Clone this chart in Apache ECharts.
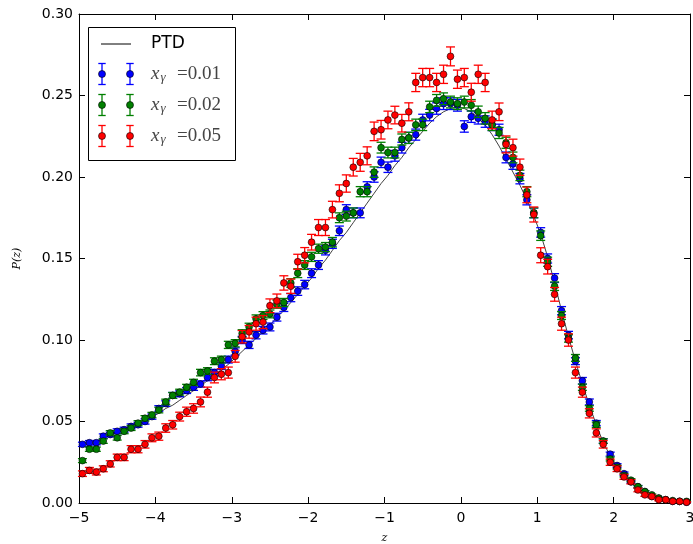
<!DOCTYPE html>
<html>
<head>
<meta charset="utf-8">
<script src="https://cdn.jsdelivr.net/npm/echarts@6/dist/echarts.min.js"></script>
<style>
html,body{margin:0;padding:0;background:#fff;}
#chart{width:693px;height:544px;}
</style>
</head>
<body>
<div id="chart"></div>
<script>
// bin centres z
const zVals = [-4.955,-4.864,-4.773,-4.682,-4.591,-4.500,-4.409,-4.318,-4.227,-4.136,-4.045,
-3.955,-3.864,-3.773,-3.682,-3.591,-3.500,-3.409,-3.318,-3.227,-3.136,-3.045,
-2.955,-2.864,-2.773,-2.682,-2.591,-2.500,-2.409,-2.318,-2.227,-2.136,-2.045,
-1.955,-1.864,-1.773,-1.682,-1.591,-1.500,-1.409,-1.318,-1.227,-1.136,-1.045,
-0.955,-0.864,-0.773,-0.682,-0.591,-0.500,-0.409,-0.318,-0.227,-0.136,-0.045,
0.045,0.136,0.227,0.318,0.409,0.500,0.591,0.682,0.773,0.864,0.955,
1.045,1.136,1.227,1.318,1.409,1.500,1.591,1.682,1.773,1.864,1.955,
2.045,2.136,2.227,2.318,2.409,2.500,2.591,2.682,2.773,2.864,2.955];

// PTD curve
const ptd = [0.035,0.037,0.038,0.040,0.042,0.043,0.045,0.047,0.049,0.051,0.053,
0.055,0.058,0.060,0.063,0.066,0.069,0.072,0.075,0.078,0.082,0.085,
0.089,0.093,0.097,0.101,0.105,0.109,0.114,0.118,0.123,0.128,0.133,
0.138,0.144,0.149,0.155,0.161,0.166,0.172,0.178,0.184,0.190,0.196,
0.201,0.207,0.212,0.218,0.223,0.228,0.233,0.237,0.240,0.242,0.243,
0.242,0.240,0.236,0.232,0.226,0.219,0.211,0.203,0.195,0.186,0.176,
0.165,0.151,0.135,0.118,0.102,0.087,0.073,0.060,0.048,0.037,0.029,
0.022,0.017,0.013,0.009,0.006,0.004,0.003,0.002,0.0013,0.0008,0.0005];

// x_gamma = 0.01
const pBlue = [0.036,0.037,0.037,0.041,0.042,0.044,0.045,0.047,0.048,0.050,0.053,
0.058,0.061,0.066,0.067,0.069,0.071,0.073,0.077,0.080,0.084,0.088,
0.093,0.100,0.097,0.103,0.106,0.108,0.114,0.120,0.126,0.130,0.134,
0.141,0.146,0.155,0.159,0.167,0.180,0.178,0.178,0.194,0.200,0.209,
0.206,0.213,0.218,0.224,0.226,0.235,0.238,0.242,0.245,0.245,0.244,
0.231,0.237,0.236,0.234,0.232,0.229,0.212,0.208,0.199,0.186,0.178,
0.166,0.150,0.138,0.118,0.103,0.087,0.075,0.062,0.049,0.038,0.030,
0.023,0.018,0.013,0.010,0.007,0.004,0.003,0.002,0.001,0.001,0.0005];
const errBlue = [0.0013,0.0013,0.0013,0.0014,0.0014,0.0015,0.0015,0.0015,0.0015,0.0016,0.0016,
0.0017,0.0017,0.0018,0.0018,0.0018,0.0019,0.0019,0.0020,0.0020,0.0021,0.0021,
0.0022,0.0022,0.0022,0.0023,0.0023,0.0024,0.0024,0.0025,0.0025,0.0026,0.0026,
0.0027,0.0027,0.0028,0.0028,0.0029,0.0030,0.0030,0.0030,0.0031,0.0032,0.0032,
0.0032,0.0033,0.0033,0.0034,0.0034,0.0035,0.0035,0.0035,0.0036,0.0036,0.0036,
0.0035,0.0035,0.0035,0.0035,0.0035,0.0034,0.0033,0.0033,0.0032,0.0031,0.0030,
0.0029,0.0028,0.0027,0.0025,0.0023,0.0021,0.0020,0.0018,0.0016,0.0014,0.0012,
0.0011,0.0010,0.0008,0.0007,0.0006,0.0005,0.0004,0.0003,0.0002,0.0002,0.0002];

// x_gamma = 0.02
const pGreen = [0.026,0.033,0.033,0.038,0.043,0.040,0.044,0.046,0.049,0.052,0.054,
0.057,0.062,0.066,0.068,0.071,0.074,0.080,0.081,0.087,0.088,0.097,
0.098,0.104,0.108,0.113,0.115,0.116,0.122,0.123,0.135,0.141,0.146,
0.151,0.156,0.157,0.160,0.175,0.176,0.178,0.191,0.191,0.203,0.218,
0.215,0.215,0.223,0.224,0.232,0.232,0.243,0.247,0.248,0.246,0.245,
0.246,0.244,0.240,0.236,0.232,0.227,0.221,0.212,0.201,0.191,0.178,
0.164,0.148,0.133,0.115,0.101,0.089,0.071,0.058,0.048,0.038,0.027,
0.022,0.017,0.014,0.010,0.007,0.005,0.003,0.002,0.0015,0.001,0.001];
const errGreen = [0.0012,0.0013,0.0013,0.0014,0.0014,0.0014,0.0015,0.0015,0.0015,0.0016,0.0016,
0.0017,0.0017,0.0018,0.0018,0.0018,0.0019,0.0020,0.0020,0.0021,0.0021,0.0022,
0.0022,0.0023,0.0023,0.0024,0.0024,0.0024,0.0025,0.0025,0.0026,0.0027,0.0027,
0.0028,0.0028,0.0028,0.0029,0.0030,0.0030,0.0030,0.0031,0.0031,0.0032,0.0033,
0.0033,0.0033,0.0034,0.0034,0.0035,0.0035,0.0035,0.0036,0.0036,0.0036,0.0036,
0.0036,0.0035,0.0035,0.0035,0.0035,0.0034,0.0034,0.0033,0.0032,0.0031,0.0030,
0.0029,0.0028,0.0026,0.0024,0.0023,0.0021,0.0019,0.0017,0.0016,0.0014,0.0012,
0.0011,0.0010,0.0009,0.0007,0.0006,0.0005,0.0004,0.0003,0.0003,0.0002,0.0002];

// x_gamma = 0.05
const pRed = [0.018,0.020,0.019,0.021,0.024,0.028,0.028,0.033,0.033,0.036,0.040,
0.041,0.046,0.048,0.053,0.056,0.058,0.062,0.068,0.077,0.079,0.080,
0.090,0.102,0.105,0.110,0.111,0.121,0.124,0.135,0.133,0.148,0.152,
0.160,0.169,0.169,0.180,0.190,0.196,0.206,0.209,0.213,0.228,0.229,
0.235,0.238,0.233,0.240,0.258,0.261,0.261,0.258,0.263,0.274,0.260,
0.261,0.252,0.263,0.258,0.235,0.240,0.220,0.218,0.206,0.189,0.177,
0.152,0.145,0.128,0.110,0.100,0.080,0.068,0.055,0.043,0.036,0.025,
0.021,0.016,0.013,0.008,0.005,0.004,0.002,0.002,0.001,0.001,0.0005];
const errRed = [0.0017,0.0018,0.0018,0.0018,0.0019,0.0020,0.0020,0.0022,0.0022,0.0023,0.0024,
0.0025,0.0026,0.0026,0.0027,0.0028,0.0029,0.0030,0.0031,0.0033,0.0034,0.0034,
0.0036,0.0038,0.0039,0.0040,0.0040,0.0042,0.0042,0.0044,0.0044,0.0046,0.0047,
0.0048,0.0049,0.0049,0.0051,0.0052,0.0053,0.0054,0.0055,0.0055,0.0057,0.0057,
0.0054,0.0054,0.0054,0.0055,0.0056,0.0056,0.0056,0.0056,0.0056,0.0058,0.0056,
0.0056,0.0055,0.0056,0.0056,0.0054,0.0054,0.0052,0.0052,0.0050,0.0048,0.0046,
0.0046,0.0045,0.0042,0.0040,0.0038,0.0034,0.0031,0.0028,0.0025,0.0023,0.0019,
0.0017,0.0015,0.0013,0.0011,0.0009,0.0008,0.0006,0.0005,0.0004,0.0004,0.0003];

const seriesNames = ['0.01', '0.02', '0.05'];
const seriesColors = ['#0000ff', '#008000', '#ff0000'];
const seriesValues = [pBlue, pGreen, pRed];
const seriesErrors = [errBlue, errGreen, errRed];

const fmtX = v => (v < 0 ? '\u2212' + Math.abs(v) : String(v));
const fmtY = v => v.toFixed(2);

function errRender(color) {
  return function (params, api) {
    const x = api.value(0), y = api.value(1), e = api.value(2);
    const c = api.coord([x, y]);
    const t = api.coord([x, y + e]);
    const b = api.coord([x, y - e]);
    const cw = 4.5;
    const ls = { stroke: color, lineWidth: 1.3 };
    return {
      type: 'group',
      children: [
        { type: 'line', shape: { x1: c[0], y1: t[1], x2: c[0], y2: b[1] }, style: ls },
        { type: 'line', shape: { x1: c[0] - cw, y1: t[1], x2: c[0] + cw, y2: t[1] }, style: ls },
        { type: 'line', shape: { x1: c[0] - cw, y1: b[1], x2: c[0] + cw, y2: b[1] }, style: ls },
        { type: 'circle', shape: { cx: c[0], cy: c[1], r: 3.4 }, style: { fill: color, stroke: '#000', lineWidth: 0.6 } }
      ]
    };
  };
}

const series = [{
  name: 'PTD', type: 'line', showSymbol: false, silent: true,
  data: zVals.map((z, i) => [z, ptd[i]]),
  lineStyle: { color: '#000', width: 1, opacity: 0.75 }, z: 1
}];
seriesValues.forEach((vals, k) => {
  series.push({
    name: seriesNames[k], type: 'custom', silent: true, z: 2 + k,
    renderItem: errRender(seriesColors[k]),
    encode: { x: 0, y: 1 },
    data: zVals.map((z, i) => [z, vals[i], seriesErrors[k][i]])
  });
});

// legend drawn as graphics
const legendY = [74, 105, 136];
const graphic = [
  { type: 'rect', shape: { x: 88.5, y: 27.5, width: 147, height: 133 }, style: { fill: '#fff', stroke: '#000', lineWidth: 1 }, z: 100 },
  { type: 'line', shape: { x1: 101, y1: 44, x2: 131, y2: 44 }, style: { stroke: '#000', lineWidth: 1 }, z: 101 },
  { type: 'text', x: 151, y: 44, style: { text: 'PTD', font: '17px "DejaVu Sans"', fill: '#000', verticalAlign: 'middle' }, z: 101 }
];
seriesNames.forEach((nm, k) => {
  const y = legendY[k], col = seriesColors[k];
  [102, 130].forEach(x => {
    const ls = { stroke: col, lineWidth: 1.3 };
    graphic.push({ type: 'line', shape: { x1: x, y1: y - 10.5, x2: x, y2: y + 10.5 }, style: ls, z: 101 });
    graphic.push({ type: 'line', shape: { x1: x - 3.7, y1: y - 10.5, x2: x + 3.7, y2: y - 10.5 }, style: ls, z: 101 });
    graphic.push({ type: 'line', shape: { x1: x - 3.7, y1: y + 10.5, x2: x + 3.7, y2: y + 10.5 }, style: ls, z: 101 });
    graphic.push({ type: 'circle', shape: { cx: x, cy: y, r: 3.5 }, style: { fill: col, stroke: '#000', lineWidth: 0.6 }, z: 102 });
  });
  graphic.push({ type: 'text', x: 151, y: y, style: { text: 'x', font: 'italic 19px "Liberation Serif"', fill: '#444', verticalAlign: 'middle' }, z: 101 });
  graphic.push({ type: 'text', x: 160.5, y: y + 4, style: { text: 'γ', font: 'italic 13px "Liberation Serif"', fill: '#444', verticalAlign: 'middle' }, z: 101 });
  graphic.push({ type: 'text', x: 177, y: y, style: { text: '=' + nm, font: '19px "Liberation Serif"', fill: '#444', verticalAlign: 'middle' }, z: 101 });
});

const axisLineStyle = { color: '#000', width: 1 };
const option = {
  animation: false,
  backgroundColor: '#fff',
  grid: { left: 79, right: 3, top: 14, bottom: 41, containLabel: false, outerBoundsMode: 'none' },
  xAxis: [{
    type: 'value', min: -5, max: 3, interval: 1, position: 'bottom',
    axisLine: { onZero: false, lineStyle: axisLineStyle },
    axisTick: { inside: true, length: 6, lineStyle: axisLineStyle },
    axisLabel: { color: '#000', fontSize: 14, fontFamily: 'DejaVu Sans', margin: 8, formatter: fmtX },
    splitLine: { show: false },
    name: 'z', nameLocation: 'middle', nameGap: 30,
    nameTextStyle: { fontFamily: 'DejaVu Serif', fontStyle: 'italic', fontSize: 11, color: '#000' }
  }, {
    type: 'value', min: -5, max: 3, interval: 1, position: 'top',
    axisLine: { onZero: false, lineStyle: axisLineStyle },
    axisTick: { inside: true, length: 6, lineStyle: axisLineStyle },
    axisLabel: { show: false }, splitLine: { show: false }
  }],
  yAxis: [{
    type: 'value', min: 0, max: 0.3, interval: 0.05, position: 'left',
    axisLine: { onZero: false, lineStyle: axisLineStyle },
    axisTick: { inside: true, length: 6, lineStyle: axisLineStyle },
    axisLabel: { color: '#000', fontSize: 14, fontFamily: 'DejaVu Sans', margin: 6, formatter: fmtY },
    splitLine: { show: false },
    name: 'P(z)', nameLocation: 'middle', nameGap: 56, nameRotate: 90,
    nameTextStyle: { fontFamily: 'DejaVu Serif', fontStyle: 'italic', fontSize: 11, color: '#000' }
  }, {
    type: 'value', min: 0, max: 0.3, interval: 0.05, position: 'right',
    axisLine: { onZero: false, lineStyle: axisLineStyle },
    axisTick: { inside: true, length: 6, lineStyle: axisLineStyle },
    axisLabel: { show: false }, splitLine: { show: false }
  }],
  series: series,
  graphic: graphic
};

const chart = echarts.init(document.getElementById('chart'), null, { renderer: 'canvas' });
chart.setOption(option);
</script>
</body>
</html>
